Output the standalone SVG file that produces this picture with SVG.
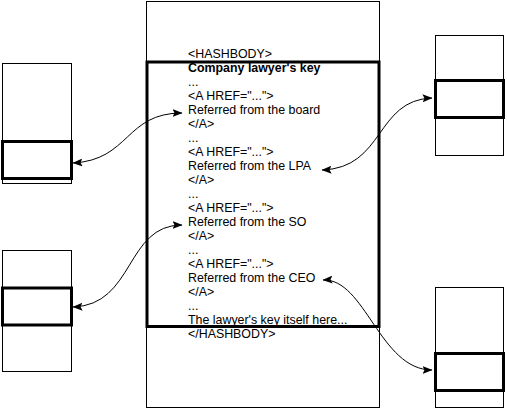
<svg xmlns="http://www.w3.org/2000/svg" width="507" height="410" viewBox="0 0 507 410">
<style>
.thin{fill:#fff;stroke:#000;stroke-width:1}
.thick{fill:none;stroke:#000;stroke-width:3}
.t{font-family:"Liberation Sans",Arial,sans-serif;font-size:12.4px;fill:#000}
.b{font-weight:bold}
.c{fill:none;stroke:#000;stroke-width:1;marker-start:url(#ah);marker-end:url(#ah)}
</style>
<defs>
<marker id="ah" viewBox="0 0 10 8" refX="9.5" refY="4" markerWidth="10" markerHeight="8" markerUnits="userSpaceOnUse" orient="auto-start-reverse">
<path d="M0,0 L10,4 L0,8 L2,4 Z" fill="#000"/>
</marker>
</defs>
<rect width="507" height="410" fill="#fff"/>
<g id="doc">
<rect class="thin" x="146.5" y="1.5" width="233" height="406"/>
<rect class="thick" x="147" y="62" width="232" height="264.5"/>
<text class="t" x="188" y="58">&lt;HASHBODY&gt;</text>
<text class="t b" x="188" y="72">Company lawyer's key</text>
<text class="t" x="188" y="86">...</text>
<text class="t" x="188" y="100">&lt;A HREF="..."&gt;</text>
<text class="t" x="188" y="114">Referred from the board</text>
<text class="t" x="188" y="128">&lt;/A&gt;</text>
<text class="t" x="188" y="142">...</text>
<text class="t" x="188" y="156">&lt;A HREF="..."&gt;</text>
<text class="t" x="188" y="170">Referred from the LPA</text>
<text class="t" x="188" y="184">&lt;/A&gt;</text>
<text class="t" x="188" y="198">...</text>
<text class="t" x="188" y="212">&lt;A HREF="..."&gt;</text>
<text class="t" x="188" y="226">Referred from the SO</text>
<text class="t" x="188" y="240">&lt;/A&gt;</text>
<text class="t" x="188" y="254">...</text>
<text class="t" x="188" y="268">&lt;A HREF="..."&gt;</text>
<text class="t" x="188" y="282">Referred from the CEO</text>
<text class="t" x="188" y="296">&lt;/A&gt;</text>
<text class="t" x="188" y="310">...</text>
<text class="t" x="188" y="324">The lawyer's key itself here...</text>
<text class="t" x="188" y="338">&lt;/HASHBODY&gt;</text>
</g>
<g id="board">
<rect class="thin" x="2.5" y="63.5" width="69" height="120"/>
<rect class="thick" x="2.5" y="141.5" width="69" height="37"/>
</g>
<g id="so">
<rect class="thin" x="2.5" y="250.5" width="69" height="121"/>
<rect class="thick" x="2.5" y="288" width="69" height="37"/>
</g>
<g id="lpa">
<rect class="thin" x="435.5" y="35.5" width="68" height="120"/>
<rect class="thick" x="435.5" y="80.5" width="68" height="37"/>
</g>
<g id="ceo">
<rect class="thin" x="435.5" y="287.5" width="68" height="120"/>
<rect class="thick" x="435.5" y="353.5" width="68" height="37"/>
</g>
<g id="connectors">
<path class="c" d="M73,163 C130,160 125,113 182,113"/>
<path class="c" d="M322,170 C385,168 375,100 432,98"/>
<path class="c" d="M73,307 C135,305 125,225 182,225"/>
<path class="c" d="M323,280 C365,278 380,370 432,370"/>
</g>
</svg>
